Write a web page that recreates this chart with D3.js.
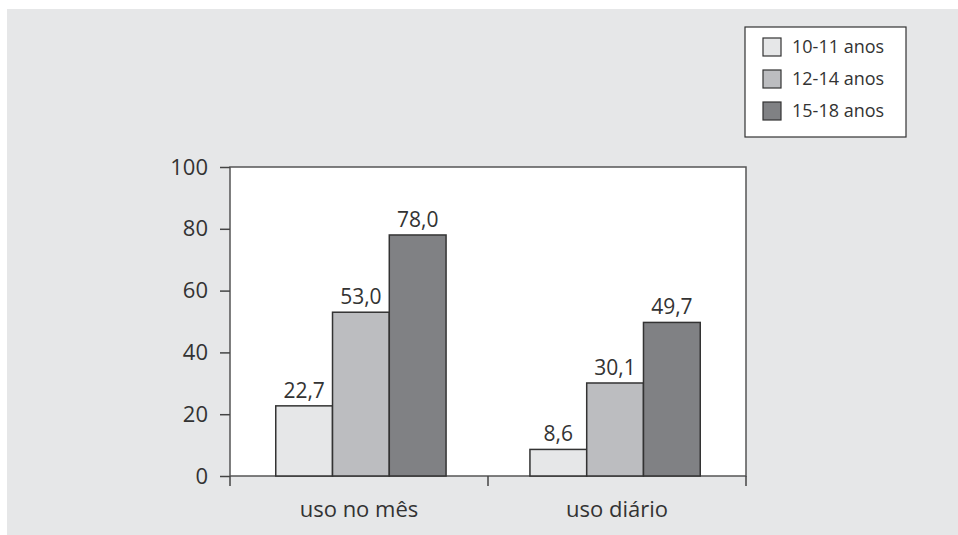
<!DOCTYPE html>
<html>
<head>
<meta charset="utf-8">
<script src="https://cdn.jsdelivr.net/npm/d3@7"></script>
<style>
  body { margin: 0; background: #ffffff; }
  svg { display: block; font-family: "Open Sans", "Noto Sans", sans-serif; }
</style>
</head>
<body>
<div id="chart"></div>
<script>
// dados
var categorias = ["uso no mês", "uso diário"];
var faixas = ["10-11 anos", "12-14 anos", "15-18 anos"];
var valores1011 = [22.7, 8.6];
var valores1214 = [53.0, 30.1];
var valores1518 = [78.0, 49.7];
var yTicks = [0, 20, 40, 60, 80, 100];

var cores = ["#e6e7e8", "#bcbdc0", "#808184"];
var series = [valores1011, valores1214, valores1518];

var W = 958, H = 535;
var plot = {left: 230, right: 746, top: 167, bottom: 476};

var svg = d3.select("#chart").append("svg")
    .attr("width", W).attr("height", H);

// fundo cinza
svg.append("rect")
    .attr("x", 7).attr("y", 9)
    .attr("width", W - 7).attr("height", H - 9)
    .attr("fill", "#e6e7e8");

// área do gráfico
svg.append("rect")
    .attr("x", plot.left).attr("y", plot.top)
    .attr("width", plot.right - plot.left).attr("height", plot.bottom - plot.top)
    .attr("fill", "#ffffff")
    .attr("stroke", "#555")
    .attr("stroke-width", 1.5);

var x0 = d3.scaleBand().domain(categorias).range([plot.left, plot.right])
    .paddingInner(0.33).paddingOuter(0.18);
var x1 = d3.scaleBand().domain(d3.range(faixas.length)).range([0, x0.bandwidth()]);
var y = d3.scaleLinear().domain([0, 100]).range([plot.bottom, plot.top]);

// eixo y
var yAxis = svg.append("g")
    .attr("transform", "translate(" + plot.left + ",0)")
    .call(d3.axisLeft(y).tickValues(yTicks).tickSize(10).tickPadding(12).tickFormat(d3.format("d")));
yAxis.select(".domain").remove();
yAxis.selectAll("line").attr("stroke", "#444").attr("stroke-width", 1.5);
yAxis.selectAll("text").attr("fill", "#333").style("font-size", "22px")
    .style("font-family", "'Open Sans', 'Noto Sans', sans-serif");

// eixo x (marcas entre categorias)
var xBreaks = [plot.left, (plot.left + plot.right) / 2, plot.right];
svg.append("g").selectAll("line")
    .data(xBreaks).enter().append("line")
    .attr("x1", function(d) { return d; }).attr("x2", function(d) { return d; })
    .attr("y1", plot.bottom).attr("y2", plot.bottom + 10)
    .attr("stroke", "#444").attr("stroke-width", 1.5);

var xCentro = d3.scaleBand().domain(categorias).range([plot.left, plot.right]);
svg.append("g").selectAll("text")
    .data(categorias).enter().append("text")
    .attr("x", function(d) { return xCentro(d) + xCentro.bandwidth() / 2; })
    .attr("y", 517)
    .attr("text-anchor", "middle")
    .attr("fill", "#333")
    .style("font-size", "22px")
    .text(function(d) { return d; });

// barras
var dados = [];
categorias.forEach(function(c, ci) {
    series.forEach(function(s, si) {
        dados.push({cat: c, serie: si, valor: s[ci]});
    });
});

var barras = svg.append("g");
barras.selectAll("rect")
    .data(dados).enter().append("rect")
    .attr("x", function(d) { return x0(d.cat) + x1(d.serie); })
    .attr("y", function(d) { return y(d.valor); })
    .attr("width", x1.bandwidth())
    .attr("height", function(d) { return y(0) - y(d.valor); })
    .attr("fill", function(d) { return cores[d.serie]; })
    .attr("stroke", "#333")
    .attr("stroke-width", 1.5);

barras.selectAll("text")
    .data(dados).enter().append("text")
    .attr("x", function(d) { return x0(d.cat) + x1(d.serie) + x1.bandwidth() / 2; })
    .attr("y", function(d) { return y(d.valor) - 8; })
    .attr("text-anchor", "middle")
    .attr("fill", "#333")
    .style("font-size", "21px")
    .text(function(d) { return d.valor.toFixed(1).replace(".", ","); });

// legenda
var leg = svg.append("g");
leg.append("rect")
    .attr("x", 745).attr("y", 27).attr("width", 161).attr("height", 110)
    .attr("fill", "#ffffff").attr("stroke", "#333").attr("stroke-width", 1.2);
var itens = leg.selectAll("g.item")
    .data(faixas).enter().append("g")
    .attr("class", "item")
    .attr("transform", function(d, i) { return "translate(763," + (47 + i * 32) + ")"; });
itens.append("rect")
    .attr("x", 0).attr("y", -9).attr("width", 18).attr("height", 18)
    .attr("fill", function(d, i) { return cores[i]; })
    .attr("stroke", "#333").attr("stroke-width", 1.2);
itens.append("text")
    .attr("x", 29).attr("y", 0).attr("dy", "0.35em")
    .attr("fill", "#333")
    .style("font-size", "18px")
    .text(function(d) { return d; });
</script>
</body>
</html>
